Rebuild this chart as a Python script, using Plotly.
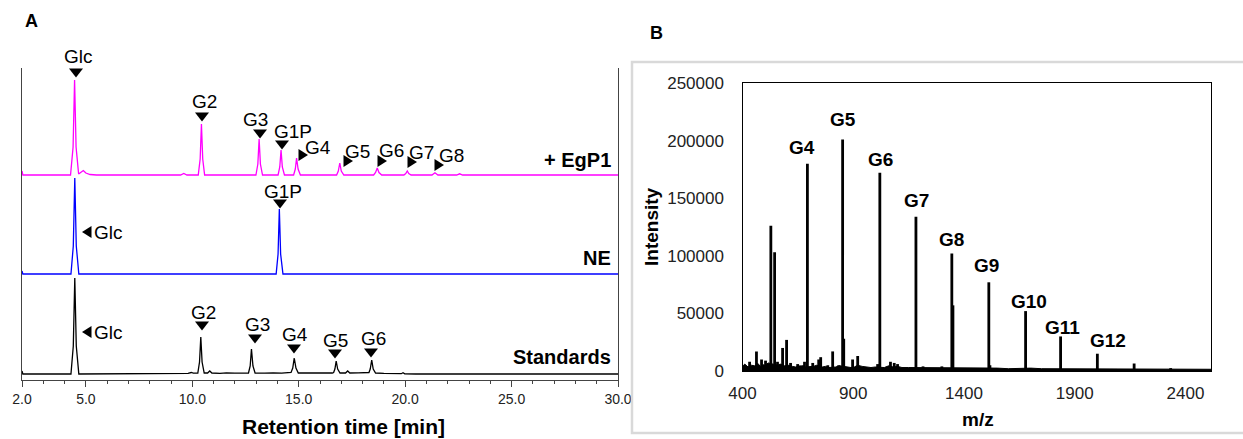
import plotly.graph_objects as go

W, H = 1243, 439
FONT = "Liberation Sans, Arial, sans-serif"

# ---------------- Panel A : HPLC chromatograms (time [min], relative signal) ----------------
egp1_t = [2.00, 2.04, 4.28, 4.40, 4.47, 4.54, 4.66, 4.76, 4.88, 5.00, 5.20, 5.50,
          9.45, 9.60, 9.75, 10.28, 10.37, 10.43, 10.49, 10.58,
          12.99, 13.08, 13.14, 13.20, 13.30, 14.03, 14.11, 14.17, 14.23, 14.33,
          14.76, 14.84, 14.90, 14.97, 15.08, 16.78, 16.86, 16.93, 17.00, 17.12,
          18.52, 18.61, 18.69, 18.77, 18.90, 19.94, 20.03, 20.10, 20.17, 20.28,
          21.26, 21.40, 21.54, 22.42, 22.56, 22.70, 23.48, 23.60, 23.72, 30.00]
egp1_v = [4, 0, 0, 28, 95, 28, 1, 3, 4.5, 2, 0.5, 0,
          0, 1.5, 0, 0, 16, 51, 16, 0,
          0, 11, 36, 11, 0, 0, 8, 25, 8, 0,
          0, 6, 17, 6, 0, 0, 4, 12, 4, 0,
          0, 2.5, 7, 2.5, 0, 0, 1.5, 4, 1.5, 0,
          0, 2.2, 0, 0, 1.2, 0, 0, 0.6, 0, 0]

ne_t = [2.00, 2.04, 4.30, 4.41, 4.48, 4.55, 4.67, 13.94, 14.03, 14.09, 14.15, 14.26, 30.00]
ne_v = [3, 0, 0, 28, 96, 28, 0, 0, 20, 65, 20, 0, 0]

std_t = [2.00, 2.04, 4.30, 4.41, 4.48, 4.55, 4.67, 9.00, 9.80, 9.95, 10.05,
         10.26, 10.34, 10.40, 10.46, 10.56, 10.72, 10.82, 10.92,
         11.30, 11.60, 12.00, 12.40, 12.64, 12.72, 12.78, 12.85, 12.95,
         13.40, 13.80, 14.20, 14.55, 14.64, 14.72, 14.79, 14.87, 14.98,
         15.40, 15.90, 16.30, 16.58, 16.64, 16.70, 16.76, 16.83, 16.94,
         17.20, 17.30, 17.40, 17.80, 18.22, 18.30, 18.36, 18.43, 18.50, 18.61,
         19.00, 19.50, 19.82, 19.90, 19.98, 20.50, 30.00]
std_v = [3, 0, 0, 28, 96, 28, 0, 0, 0.6, 1.5, 0.8,
         1, 12, 37, 12, 1, 1, 3, 1,
         0.6, 1.2, 0.8, 1.0, 1, 8, 25, 8, 1,
         0.8, 1.2, 0.8, 1, 1.5, 6, 16, 6, 1,
         1.2, 0.8, 1.2, 1, 1.5, 5, 13, 5, 1,
         1, 3, 1, 1.2, 1, 1.5, 5, 14, 5, 1,
         0.6, 0.3, 0.3, 1.3, 0.2, 0, 0]

trace_names = ["+ EgP1", "NE", "Standards"]
x_tickvals = [2, 5, 10, 15, 20, 25, 30]

# peak labels of panel A: (text, trace, text-x px, text-y px, arrow, arrow-x px, arrow-y px)
a_labels = [
    ("Glc", 0, 78, 57, "down", 76, 73),
    ("G2", 0, 204, 101, "down", 202, 117),
    ("G3", 0, 255, 120, "down", 260, 134),
    ("G1P", 0, 293, 131, "down", 282, 145),
    ("G4", 0, 318, 147, "right", 303, 155),
    ("G5", 0, 357, 151, "right", 348, 161),
    ("G6", 0, 391, 150, "right", 382, 161),
    ("G7", 0, 422, 152, "right", 412, 162),
    ("G8", 0, 451, 155, "right", 439, 165),
    ("G1P", 1, 283, 191, "down", 280, 204),
    ("Glc", 1, 108, 232, "left", 87, 232),
    ("Glc", 2, 108, 332, "left", 87, 332),
    ("G2", 2, 203, 312, "down", 202, 326),
    ("G3", 2, 257, 324, "down", 255, 339),
    ("G4", 2, 295, 334, "down", 294, 349),
    ("G5", 2, 336, 340, "down", 335, 354),
    ("G6", 2, 373, 338, "down", 371, 353),
]

# ---------------- Panel B : MALDI-TOF spectrum ----------------
gp_labels = ["G4", "G5", "G6", "G7", "G8", "G9", "G10", "G11", "G12"]
gp_mz = [693, 852, 1020, 1183, 1345, 1512, 1678, 1836, 2002]
gp_int = [180000, 201000, 172000, 134000, 102000, 77000, 52000, 30000, 15000]

other_mz = [528, 545, 857, 1350, 1517, 2168, 2333,
            432, 463, 486, 504, 558, 581, 599, 617, 649, 672, 680, 717, 744, 753,
            785, 807, 834, 897, 920, 1010, 1068, 1085, 1100, 1215, 1300]
other_int = [126000, 103000, 28000, 57000, 5000, 6500, 2500,
             8000, 17000, 10000, 9000, 8000, 20000, 27000, 7000, 6000, 5000, 8000, 7000, 10000, 12000,
             5000, 17000, 5000, 10000, 13000, 6000, 8000, 7000, 6000, 4000, 4000]

noise_mz = [400, 410, 425, 440, 455, 470, 480, 495, 505, 515, 560, 570, 590, 610, 625,
            640, 660, 680, 720, 735, 760, 775, 790, 820, 840, 870, 890, 905, 920, 940,
            960, 980, 1000, 1040, 1060, 1080, 1100, 1120, 1150, 1200, 1250, 1300, 1400,
            1450, 1550, 1600, 1700, 1750, 1800, 1900, 1950, 2050, 2100, 2200, 2300, 2400, 2515]
noise_int = [4000, 6000, 3500, 5000, 4500, 6500, 4000, 5500, 4500, 7000, 5000, 6000, 4500, 5000, 4000,
             3500, 4500, 3500, 4000, 5000, 3500, 4000, 3000, 3500, 4500, 3500, 3000, 3500, 5000, 4000,
             3500, 3000, 3500, 3000, 4500, 3500, 4000, 3000, 3000, 3000, 2500, 3000, 2500,
             2500, 2500, 2000, 2500, 2000, 2000, 2000, 2000, 1800, 2000, 1800, 1800, 1500, 1500]

b_label_dx = [-5, 0, 1, 1, 0, -2, 3, 2, 11]
b_label_gap = [9, 12, 6, 9, 7, 9, 2, 1, 6]

# ---------------- layout helpers (pixel -> paper) ----------------
def px(x):
    return x / W


def py(y):
    return 1 - y / H


A_LEFT, A_RIGHT, A_TOP, A_BOT = 22, 618, 68, 380
B_LEFT, B_RIGHT, B_TOP, B_BOT = 742.5, 1211, 83, 371
offsets = [205, 106, 6]          # vertical stacking offsets of the three traces (px units)
colors = ["#ff00ff", "#0000ff", "#000000"]

fig = go.Figure()

for (t, v), off, col in zip([(egp1_t, egp1_v), (ne_t, ne_v), (std_t, std_v)], offsets, colors):
    fig.add_trace(go.Scatter(x=t, y=[val + off for val in v], mode="lines",
                             line=dict(color=col, width=1.3), xaxis="x", yaxis="y",
                             hoverinfo="skip", showlegend=False))

# spectrum: baseline noise + stems
fig.add_trace(go.Scatter(x=noise_mz, y=noise_int, mode="lines", fill="tozeroy",
                         fillcolor="#000", line=dict(color="#000", width=1),
                         xaxis="x2", yaxis="y2", showlegend=False, hoverinfo="skip"))
stem_x, stem_y = [], []
for m, h in zip(other_mz + gp_mz, other_int + gp_int):
    stem_x += [m, m, None]
    stem_y += [0, h, None]
fig.add_trace(go.Scatter(x=stem_x, y=stem_y, mode="lines", line=dict(color="#000", width=2.8),
                         xaxis="x2", yaxis="y2", showlegend=False, hoverinfo="skip"))

annotations = []
shapes = []

def tri(direction, cx, cy):
    if direction == "down":
        pts = [(cx - 7, cy - 4.5), (cx + 7, cy - 4.5), (cx, cy + 4.5)]
    elif direction == "right":
        pts = [(cx - 4.5, cy - 6), (cx - 4.5, cy + 6), (cx + 5, cy)]
    else:
        pts = [(cx + 4.5, cy - 6), (cx + 4.5, cy + 6), (cx - 5, cy)]
    path = "M " + " L ".join(f"{px(a):.5f},{py(b):.5f}" for a, b in pts) + " Z"
    return dict(type="path", xref="paper", yref="paper", path=path,
                fillcolor="#000", line=dict(width=0))

for text, _, tx, ty, d, ax, ay in a_labels:
    annotations.append(dict(text=text, x=px(tx), y=py(ty), xref="paper", yref="paper",
                            showarrow=False, xanchor="center", yanchor="middle",
                            font=dict(family=FONT, size=19, color="#000")))
    shapes.append(tri(d, ax, ay))

for name, yy in zip(trace_names, [160, 258, 357]):
    annotations.append(dict(text=f"<b>{name}</b>", x=px(613), y=py(yy), xref="paper", yref="paper",
                            showarrow=False, xanchor="right", yanchor="middle",
                            font=dict(family=FONT, size=20, color="#000")))

for lab, m, h, dx, gap in zip(gp_labels, gp_mz, gp_int, b_label_dx, b_label_gap):
    annotations.append(dict(text=f"<b>{lab}</b>", x=m, y=h, xref="x2", yref="y2",
                            showarrow=False, xanchor="center", yanchor="bottom",
                            xshift=dx, yshift=gap - 5,
                            font=dict(family=FONT, size=19, color="#000")))

# titles / panel letters (explicit centre anchoring)
def label(text, x, y, size, angle=0):
    return dict(text=text, x=px(x), y=py(y), xref="paper", yref="paper", showarrow=False,
                xanchor="center", yanchor="middle", textangle=angle,
                font=dict(family=FONT, size=size, color="#000"))

annotations += [
    label("<b>A</b>", 32, 21, 18),
    label("<b>B</b>", 656, 33, 18),
    label("<b>Retention time [min]</b>", 343, 426, 21),
    label("<b>m/z</b>", 978, 419, 19),
    label("<b>Intensity</b>", 651, 227, 19, -90),
]

# grey frame around panel B
shapes.append(dict(type="rect", xref="paper", yref="paper", x0=px(632), x1=1.02,
                   y0=py(433), y1=py(62), line=dict(color="#d9d9d9", width=2.5)))

fig.update_layout(
    width=W, height=H, margin=dict(l=0, r=0, t=0, b=0, autoexpand=False),
    paper_bgcolor="white", plot_bgcolor="white",
    font=dict(family=FONT, color="#222"),
    annotations=annotations, shapes=shapes, showlegend=False,
    xaxis=dict(domain=[px(A_LEFT), px(A_RIGHT)], range=[2, 30], anchor="y", automargin=False,
               tickmode="array", tickvals=x_tickvals, ticktext=[f"{v:.1f}" for v in x_tickvals],
               ticks="outside", ticklen=6, tickcolor="#444", tickwidth=1,
               minor=dict(tickmode="linear", tick0=2, dtick=1, ticks="outside", ticklen=3,
                          tickcolor="#444", tickwidth=1),
               showline=True, linecolor="#444", linewidth=1.2, mirror=False,
               showgrid=False, zeroline=False, tickfont=dict(size=14, color="#222")),
    yaxis=dict(domain=[py(A_BOT), py(A_TOP)], range=[0, A_BOT - A_TOP], anchor="x", automargin=False,
               showline=True, linecolor="#444", linewidth=1.2, mirror=True,
               showticklabels=False, ticks="", showgrid=False, zeroline=False),
    xaxis2=dict(domain=[px(B_LEFT), px(B_RIGHT)], range=[400, 2515], anchor="y2", automargin=False,
                tickmode="array", tickvals=[400, 900, 1400, 1900, 2400],
                ticks="", ticklabelstandoff=6,
                showline=True, linecolor="#000", linewidth=1.3, mirror=True,
                showgrid=False, zeroline=False, tickfont=dict(size=17, color="#222")),
    yaxis2=dict(domain=[py(B_BOT), py(B_TOP)], range=[0, 250000], anchor="x2", automargin=False,
                tickmode="linear", tick0=0, dtick=50000, tickformat="d",
                ticks="", ticklabelstandoff=14,
                showline=True, linecolor="#000", linewidth=1.3, mirror=True,
                showgrid=False, zeroline=False, tickfont=dict(size=17, color="#222")),
)

fig.write_html("out.html", config={"displayModeBar": False},
               post_script="document.body.style.margin='0';document.body.style.overflow='hidden';")
